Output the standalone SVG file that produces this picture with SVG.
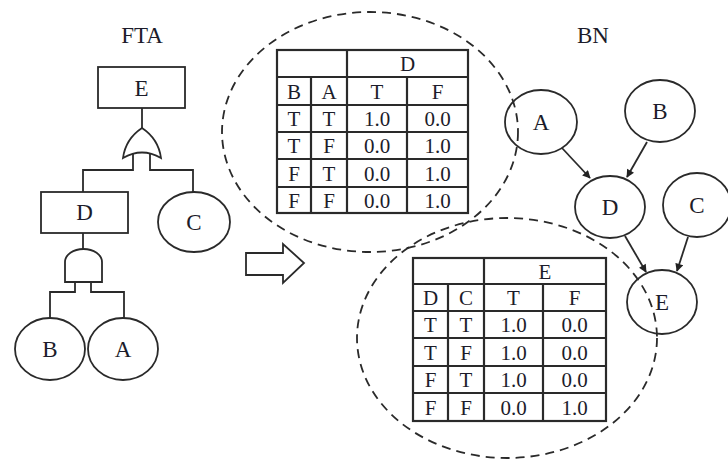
<svg xmlns="http://www.w3.org/2000/svg" width="728" height="462" viewBox="0 0 728 462">
<style>
.ln{fill:none;stroke:#2a2a2a;stroke-width:1.8}
.nd{fill:#fff;stroke:#2a2a2a;stroke-width:1.8}
.tb{fill:none;stroke:#2a2a2a;stroke-width:2.2}
.dash{fill:none;stroke:#2a2a2a;stroke-width:1.8;stroke-dasharray:9 6}
text{font-family:"Liberation Serif","Times New Roman",serif;fill:#1c1c2a;text-anchor:middle}
.lb{font-size:23px}
.tt{font-size:21px}
</style>
<defs>
<marker id="ah" viewBox="0 0 10 10" refX="9" refY="5" markerWidth="9" markerHeight="8" orient="auto" markerUnits="userSpaceOnUse">
<path d="M0,0 L10,5 L0,10 Z" fill="#222"/>
</marker>
</defs>
<rect width="728" height="462" fill="#fff"/>

<g id="titles">
<text class="lb" x="142" y="43">FTA</text>
<text class="lb" x="593" y="43">BN</text>
</g>

<g id="fta-connectors">
<path class="ln" d="M142,108 V128"/>
<path class="ln" d="M133,154 V170 H83 V192"/>
<path class="ln" d="M150,154 V170 H193 V192"/>
<path class="ln" d="M83,233 V249"/>
<path class="ln" d="M75,282 V292 H50 V318"/>
<path class="ln" d="M91,282 V292 H124 V318"/>
</g>

<g id="fta-E">
<rect class="nd" x="98" y="67" width="87" height="41"/>
<text class="lb" x="141.5" y="96">E</text>
</g>
<g id="fta-or">
<path class="nd" d="M123,158 C125,143 133,134 142,128 C151,134 159,143 161,158 Q142,147 123,158 Z"/>
</g>
<g id="fta-D">
<rect class="nd" x="41" y="192" width="87" height="41"/>
<text class="lb" x="84.5" y="220">D</text>
</g>
<g id="fta-C">
<ellipse class="nd" cx="194" cy="222" rx="36" ry="30"/>
<text class="lb" x="194" y="230">C</text>
</g>
<g id="fta-and">
<path class="nd" d="M65,282 V262 A18.5,13 0 0 1 102,262 V282 Z"/>
</g>
<g id="fta-B">
<ellipse class="nd" cx="50" cy="349" rx="35" ry="31"/>
<text class="lb" x="50" y="357">B</text>
</g>
<g id="fta-A">
<ellipse class="nd" cx="123" cy="349" rx="35" ry="31"/>
<text class="lb" x="123" y="357">A</text>
</g>

<g id="transform-arrow">
<path class="ln" d="M246,253 H283 V244 L304,263 L283,283 V275 H246 Z"/>
</g>

<g id="table-D">
<rect class="tb" x="277" y="50" width="191" height="163"/>
<path class="tb" d="M277,77 H468 M277,105 H468 M277,132 H468 M277,159 H468 M277,187 H468 M311,77 V213 M347,50 V213 M407,77 V213"/>
<text class="tt" x="407.5" y="71">D</text>
<text class="tt" x="294" y="98.5">B</text><text class="tt" x="329" y="98.5">A</text><text class="tt" x="377" y="98.5">T</text><text class="tt" x="437.5" y="98.5">F</text>
<text class="tt" x="294" y="126">T</text><text class="tt" x="329" y="126">T</text><text class="tt" x="377" y="126">1.0</text><text class="tt" x="437.5" y="126">0.0</text>
<text class="tt" x="294" y="153">T</text><text class="tt" x="329" y="153">F</text><text class="tt" x="377" y="153">0.0</text><text class="tt" x="437.5" y="153">1.0</text>
<text class="tt" x="294" y="180.5">F</text><text class="tt" x="329" y="180.5">T</text><text class="tt" x="377" y="180.5">0.0</text><text class="tt" x="437.5" y="180.5">1.0</text>
<text class="tt" x="294" y="207.5">F</text><text class="tt" x="329" y="207.5">F</text><text class="tt" x="377" y="207.5">0.0</text><text class="tt" x="437.5" y="207.5">1.0</text>
</g>

<g id="table-E">
<rect class="tb" x="413" y="258" width="193" height="163"/>
<path class="tb" d="M413,284 H606 M413,311 H606 M413,338 H606 M413,366 H606 M413,393 H606 M448,284 V421 M484,258 V421 M543,284 V421"/>
<text class="tt" x="545" y="278.5">E</text>
<text class="tt" x="430.5" y="305">D</text><text class="tt" x="466" y="305">C</text><text class="tt" x="513.5" y="305">T</text><text class="tt" x="574.5" y="305">F</text>
<text class="tt" x="430.5" y="332">T</text><text class="tt" x="466" y="332">T</text><text class="tt" x="513.5" y="332">1.0</text><text class="tt" x="574.5" y="332">0.0</text>
<text class="tt" x="430.5" y="359.5">T</text><text class="tt" x="466" y="359.5">F</text><text class="tt" x="513.5" y="359.5">1.0</text><text class="tt" x="574.5" y="359.5">0.0</text>
<text class="tt" x="430.5" y="387">F</text><text class="tt" x="466" y="387">T</text><text class="tt" x="513.5" y="387">1.0</text><text class="tt" x="574.5" y="387">0.0</text>
<text class="tt" x="430.5" y="414.5">F</text><text class="tt" x="466" y="414.5">F</text><text class="tt" x="513.5" y="414.5">0.0</text><text class="tt" x="574.5" y="414.5">1.0</text>
</g>

<g id="bn-connectors">
<line class="ln" x1="562" y1="148" x2="590" y2="178" marker-end="url(#ah)"/>
<line class="ln" x1="647" y1="142" x2="627" y2="177" marker-end="url(#ah)"/>
<line class="ln" x1="625" y1="236" x2="646" y2="272" marker-end="url(#ah)"/>
<line class="ln" x1="688" y1="237" x2="677" y2="271" marker-end="url(#ah)"/>
</g>

<g id="bn-A">
<ellipse class="nd" cx="541" cy="122" rx="36" ry="32"/>
<text class="lb" x="541" y="130">A</text>
</g>
<g id="bn-B">
<ellipse class="nd" cx="660" cy="111" rx="35" ry="31"/>
<text class="lb" x="660" y="119">B</text>
</g>
<g id="bn-D">
<ellipse class="nd" cx="610" cy="207" rx="35" ry="31"/>
<text class="lb" x="610" y="215">D</text>
</g>
<g id="bn-C">
<ellipse class="nd" cx="697" cy="205" rx="34" ry="32"/>
<text class="lb" x="697" y="213">C</text>
</g>
<g id="bn-E">
<ellipse class="nd" cx="662" cy="302" rx="35" ry="32"/>
<text class="lb" x="662" y="310">E</text>
</g>

<g id="cpt-outlines">
<ellipse class="dash" cx="370" cy="132" rx="148" ry="120"/>
<ellipse class="dash" cx="507" cy="338" rx="150" ry="120"/>
</g>
</svg>
